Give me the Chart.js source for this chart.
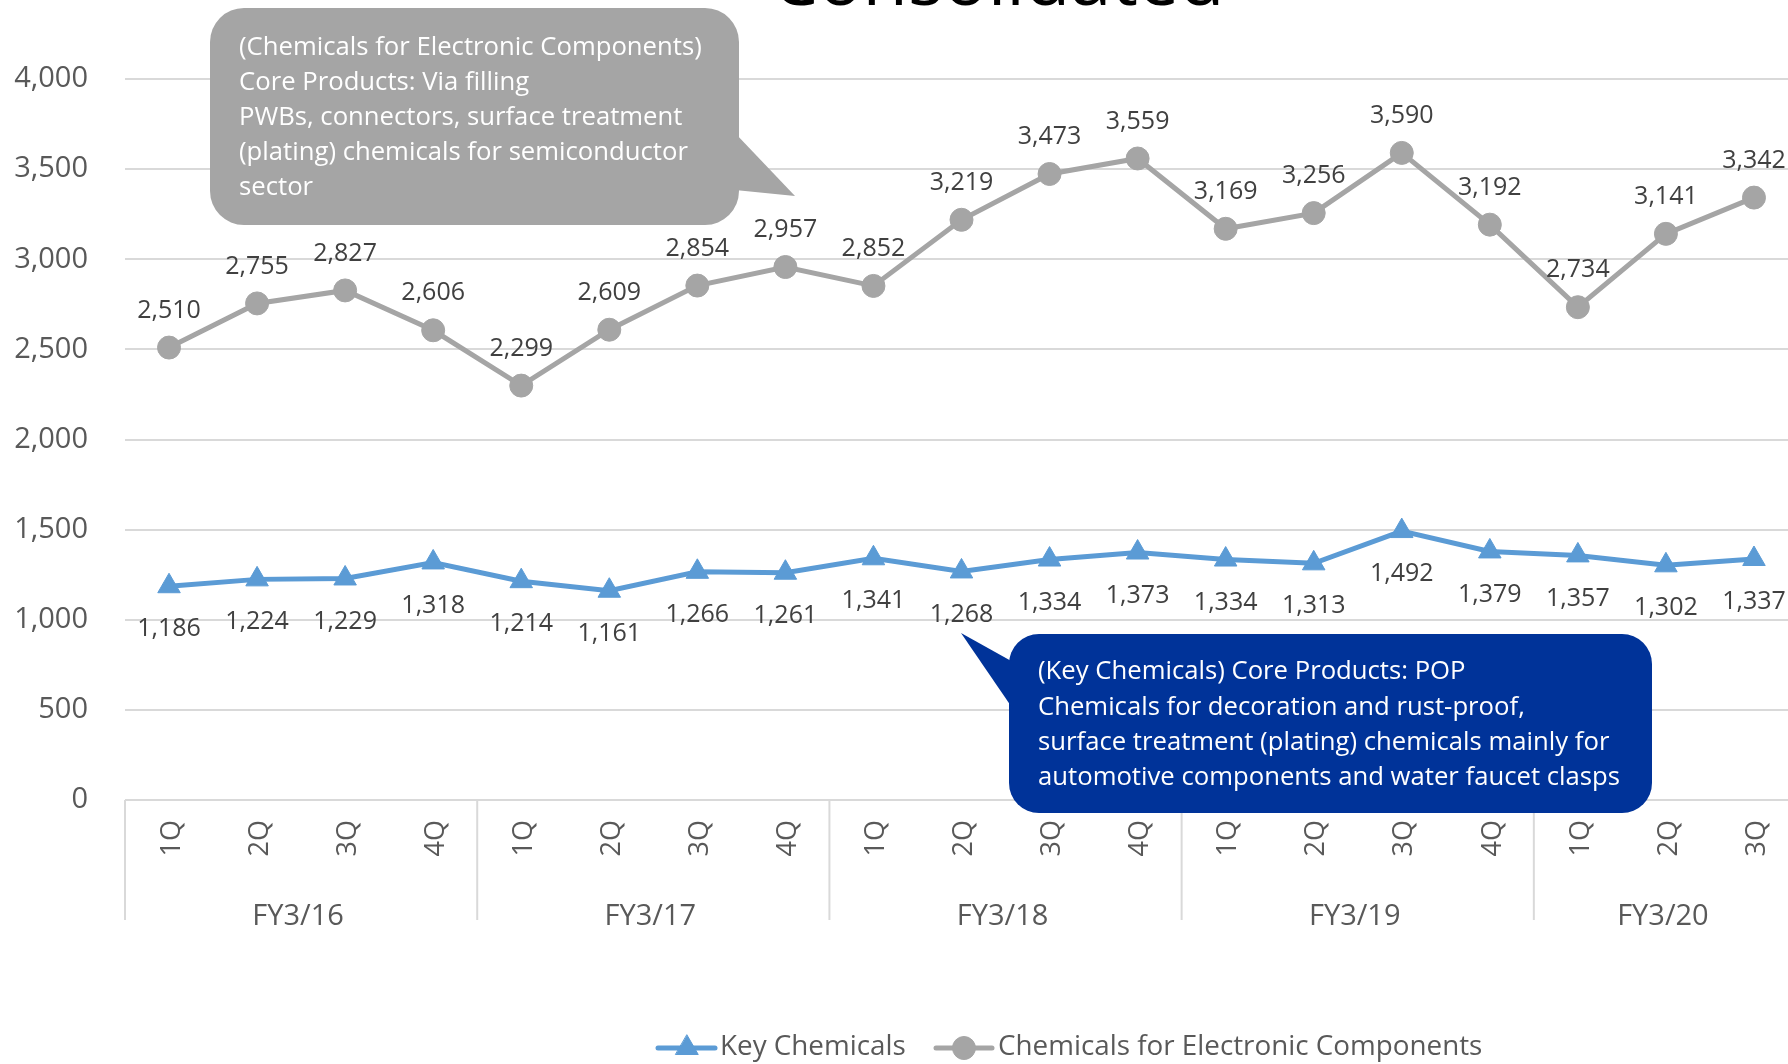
<!DOCTYPE html>
<html><head><meta charset="utf-8">
<script src="https://cdn.jsdelivr.net/npm/chart.js@4/dist/chart.umd.min.js"></script>
<style>
html,body{margin:0;padding:0;overflow:hidden;background:#fff;width:1788px;height:1064px}
#wrap{position:absolute;left:0;top:0;width:1812px;height:1064px}
</style>
</head><body>
<div id="wrap"><canvas id="c" width="1812" height="1064"></canvas></div>
<script>
const quarters = ['1Q','2Q','3Q','4Q','1Q','2Q','3Q','4Q','1Q','2Q','3Q','4Q','1Q','2Q','3Q','4Q','1Q','2Q','3Q'];
const fiscalYears = ['FY3/16','FY3/17','FY3/18','FY3/19','FY3/20'];
const quartersPerYear = [4,4,4,4,3];
const keyChemicals = [1186,1224,1229,1318,1214,1161,1266,1261,1341,1268,1334,1373,1334,1313,1492,1379,1357,1302,1337];
const electronicChemicals = [2510,2755,2827,2606,2299,2609,2854,2957,2852,3219,3473,3559,3169,3256,3590,3192,2734,3141,3342];
const seriesNames = ['Key Chemicals','Chemicals for Electronic Components'];
const titleText = 'Consolidated';
const calloutGreyLines = ['(Chemicals for Electronic Components)','Core Products: Via filling','PWBs, connectors, surface treatment','(plating) chemicals for semiconductor','sector'];
const calloutBlueLines = ['(Key Chemicals) Core Products: POP','Chemicals for decoration and rust-proof,','surface treatment (plating) chemicals mainly for','automotive components and water faucet clasps'];

const FONT = '"Open Sans", "DejaVu Sans", sans-serif';
const BLUE = '#5B9BD5', GREY = '#A5A5A5', NAVY = '#003399';
const fmt = v => v.toLocaleString('en-US');

function roundRect(ctx, x, y, w, h, r) {
  ctx.moveTo(x + r, y);
  ctx.lineTo(x + w - r, y); ctx.arcTo(x + w, y, x + w, y + r, r);
  ctx.lineTo(x + w, y + h - r); ctx.arcTo(x + w, y + h, x + w - r, y + h, r);
  ctx.lineTo(x + r, y + h); ctx.arcTo(x, y + h, x, y + h - r, r);
  ctx.lineTo(x, y + r); ctx.arcTo(x, y, x + r, y, r);
  ctx.closePath();
}

const decor = {
  id: 'decor',
  afterDatasetsDraw(chart) {
    const ctx = chart.ctx;
    ctx.save();
    ctx.font = '25px ' + FONT;
    ctx.fillStyle = '#404040';
    ctx.textAlign = 'center';
    ctx.textBaseline = 'middle';
    chart.data.datasets.forEach((ds, i) => {
      const meta = chart.getDatasetMeta(i);
      const off = i === 0 ? 43 : -37;
      meta.data.forEach((pt, j) => {
        ctx.fillText(fmt(ds.data[j]), pt.x, pt.y + off);
      });
    });
    ctx.restore();
  },
  afterDraw(chart) {
    const ctx = chart.ctx;
    const xs = chart.scales.x;
    const area = chart.chartArea;
    ctx.save();
    const step = xs.getPixelForValue(1) - xs.getPixelForValue(0);
    let idx = 0;
    ctx.strokeStyle = '#D9D9D9';
    ctx.lineWidth = 2;
    ctx.fillStyle = '#595959';
    ctx.font = '29px ' + FONT;
    ctx.textAlign = 'center';
    ctx.textBaseline = 'middle';
    fiscalYears.forEach((fy, g) => {
      const left = xs.getPixelForValue(idx) - step / 2;
      const right = xs.getPixelForValue(idx + quartersPerYear[g] - 1) + step / 2;
      ctx.beginPath();
      ctx.moveTo(left, area.bottom); ctx.lineTo(left, 920);
      ctx.stroke();
      ctx.fillText(fy, (left + right) / 2 - 3, 917);
      idx += quartersPerYear[g];
    });
    // title (cropped at top)
    ctx.fillStyle = '#000';
    ctx.font = '74px ' + FONT;
    ctx.textBaseline = 'alphabetic';
    ctx.fillText(titleText, 998, 5);

    // grey callout
    ctx.fillStyle = GREY;
    ctx.beginPath();
    roundRect(ctx, 210, 8, 529, 217, 34);
    ctx.fill();
    ctx.beginPath();
    ctx.moveTo(735, 133); ctx.lineTo(795, 196); ctx.lineTo(735, 190); ctx.closePath();
    ctx.fill();
    ctx.fillStyle = '#fff';
    ctx.font = '25.7px ' + FONT;
    ctx.textAlign = 'left';
    ctx.textBaseline = 'middle';
    calloutGreyLines.forEach((t, k) => ctx.fillText(t, 239, 48 + k * 35));

    // blue callout
    ctx.fillStyle = NAVY;
    ctx.beginPath();
    roundRect(ctx, 1009, 634, 643, 179, 30);
    ctx.fill();
    ctx.beginPath();
    ctx.moveTo(1013, 662); ctx.lineTo(961, 633); ctx.lineTo(1013, 709); ctx.closePath();
    ctx.fill();
    ctx.fillStyle = '#fff';
    calloutBlueLines.forEach((t, k) => ctx.fillText(t, 1038, 672 + k * 35.3));

    // legend
    const H = Chart.helpers;
    const legendItems = [
      {x1: 658, x2: 715, cx: 687, tx: 720, color: BLUE, style: 'triangle', r: 13},
      {x1: 936, x2: 992, cx: 964, tx: 998, color: GREY, style: 'circle', r: 11.5}
    ];
    legendItems.forEach((it, k) => {
      ctx.strokeStyle = it.color; ctx.lineWidth = 5; ctx.lineCap = 'round';
      ctx.beginPath(); ctx.moveTo(it.x1, 1048); ctx.lineTo(it.x2, 1048); ctx.stroke();
      ctx.fillStyle = it.color;
      ctx.lineWidth = 1;
      H.drawPoint(ctx, {pointStyle: it.style, radius: it.r, rotation: 0, borderWidth: 1}, it.cx, 1048);
      ctx.fillStyle = '#595959';
      ctx.font = '27.8px ' + FONT;
      ctx.textAlign = 'left';
      ctx.textBaseline = 'middle';
      ctx.fillText(seriesNames[k], it.tx, 1047);
    });
    ctx.restore();
  }
};

new Chart(document.getElementById('c'), {
  type: 'line',
  data: {
    labels: quarters,
    datasets: [
      {label: seriesNames[0], data: keyChemicals, borderColor: BLUE, backgroundColor: BLUE,
       borderWidth: 5, pointStyle: 'triangle', pointRadius: 13, pointBorderWidth: 1, tension: 0},
      {label: seriesNames[1], data: electronicChemicals, borderColor: GREY, backgroundColor: GREY,
       borderWidth: 5, pointStyle: 'circle', pointRadius: 11.5, pointBorderWidth: 1, tension: 0}
    ]
  },
  options: {
    responsive: false, animation: false, devicePixelRatio: 1,
    layout: {padding: {left: 0, top: 79, right: 3, bottom: 114}},
    plugins: {legend: {display: false}, tooltip: {enabled: false}},
    scales: {
      x: {
        offset: true,
        grid: {display: false, drawTicks: false},
        border: {display: false},
        ticks: {minRotation: 90, maxRotation: 90, autoSkip: false, padding: 20, labelOffset: 3,
                color: '#595959', font: {family: FONT, size: 27}},
        afterFit: s => { s.height = 150; }
      },
      y: {
        min: 0, max: 4000,
        ticks: {stepSize: 500, padding: 37, color: '#595959', font: {family: FONT, size: 29},
                callback: v => fmt(v)},
        grid: {color: '#D9D9D9', lineWidth: 2, drawTicks: false},
        border: {display: false},
        afterFit: s => { s.width = 125; }
      }
    }
  },
  plugins: [decor]
});
</script>
</body></html>
